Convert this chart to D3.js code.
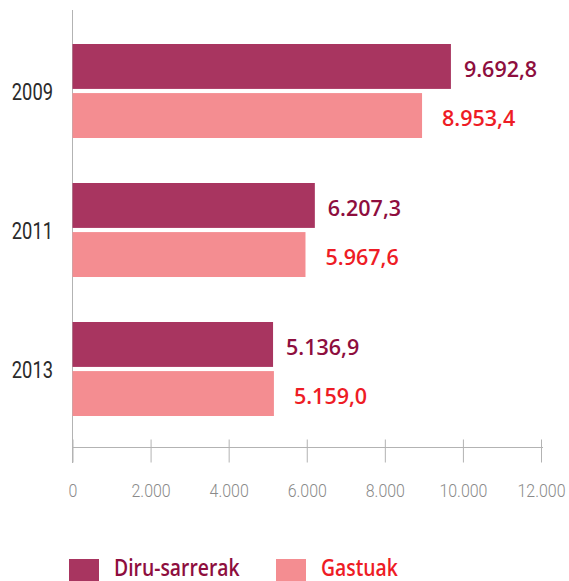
<!DOCTYPE html>
<html><head><meta charset="utf-8">
<script src="https://cdn.jsdelivr.net/npm/d3@7"></script>
<style>body{margin:0;background:#fff}</style>
</head><body>
<script>
const years = ["2009","2011","2013"];
const seriesNames = ["Diru-sarrerak","Gastuak"];
const diruSarrerak = [9692.8, 6207.3, 5136.9];
const gastuak = [8953.4, 5967.6, 5159.0];
const tickValues = [0,2000,4000,6000,8000,10000,12000];
const barColors = ["#A83560","#F48D91"];
const labelColors = ["#8E0E3E","#EE1C25"];

const W=569,H=581;
const svg=d3.select("body").append("svg").attr("width",W).attr("height",H);
const x=d3.scaleLinear().domain([0,12000]).range([72.5,541]);
const y0=d3.scaleBand().domain(years).range([44,461]).paddingInner(0.0).paddingOuter(0);
const fmt=v=>{const s=v.toFixed(1).split(".");return s[0].replace(/\B(?=(\d{3})+(?!\d))/g,".")+","+s[1];};
const fmtTick=v=>String(v).replace(/\B(?=(\d{3})+(?!\d))/g,".");

// axes
svg.append("line").attr("x1",72.5).attr("x2",72.5).attr("y1",10).attr("y2",463).attr("stroke","#b3b3b3").attr("stroke-width",1);
const xa=svg.append("g").attr("transform","translate(0,447.5)")
  .call(d3.axisBottom(x).tickValues(tickValues).tickSize(0).tickFormat(""));
xa.select(".domain").attr("d","M72.5,0H543").attr("stroke","#b3b3b3");
xa.selectAll(".tick").append("line").attr("y1",-8).attr("y2",15).attr("stroke","#b3b3b3");
xa.selectAll(".tick").append("text").text(d=>fmtTick(d))
  .attr("transform","translate(0,49) scale(0.84,1)")
  .attr("fill","#8a8a8a").attr("font-family","Roboto,sans-serif").attr("font-weight",300)
  .attr("font-size",19).attr("text-anchor","middle");

const data=years.map((yr,i)=>({yr,vals:[diruSarrerak[i],gastuak[i]]}));
const inner=d3.scaleBand().domain([0,1]).range([0,94]).paddingInner(0.085);
const labelOffset=[13,20];
const g=svg.selectAll("g.grp").data(data).join("g").attr("class","grp")
  .attr("transform",d=>`translate(0,${y0(d.yr)})`);
g.selectAll("rect").data(d=>d.vals).join("rect")
  .attr("x",x(0)).attr("y",(d,i)=>inner(i)).attr("height",inner.bandwidth())
  .attr("width",d=>x(d)-x(0)).attr("fill",(d,i)=>barColors[i]);
g.selectAll("text.val").data(d=>d.vals).join("text").attr("class","val")
  .attr("x",(d,i)=>x(d)+labelOffset[i]).attr("y",(d,i)=>inner(i)+inner.bandwidth()/2+10.5)
  .attr("fill",(d,i)=>labelColors[i]).attr("font-family","'Open Sans',sans-serif")
  .attr("font-weight",600).attr("font-size",21.5).text(d=>fmt(d));
g.append("text").attr("transform","translate(53,56) scale(0.78,1)").attr("text-anchor","end")
  .attr("font-family","Roboto,sans-serif").attr("font-weight",400).attr("font-size",23.5)
  .attr("fill","#2b2b2b").text(d=>d.yr);

// legend
const lx=[69,276];
seriesNames.forEach((n,i)=>{
  svg.append("rect").attr("x",lx[i]).attr("y",559).attr("width",30).attr("height",22).attr("fill",barColors[i]);
  svg.append("text").attr("transform",`translate(${lx[i]+45},575.5) scale(0.86,1)`).attr("fill",labelColors[i])
    .attr("font-family","'Open Sans',sans-serif").attr("font-weight",600).attr("font-size",22.5)
    .text(n);
});
</script>
</body></html>
